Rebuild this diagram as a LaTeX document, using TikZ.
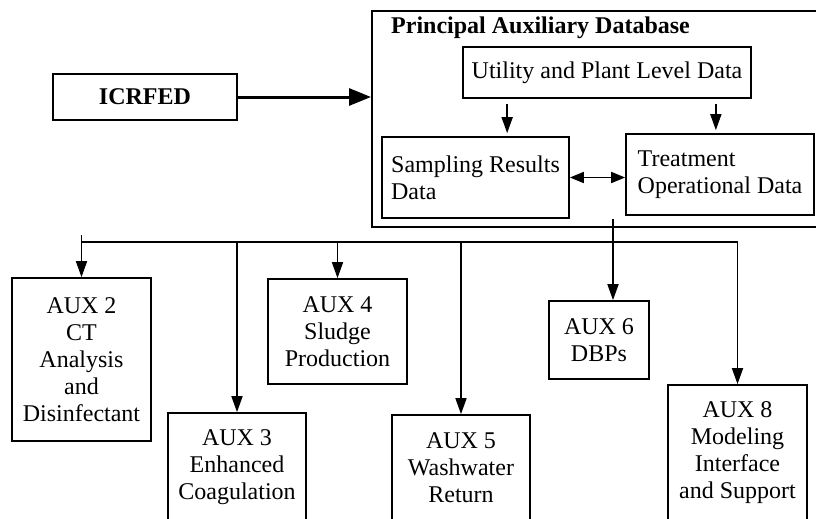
\documentclass[tikz,border=0pt]{standalone}
\usepackage{fontspec}
\setmainfont{Liberation Serif}
\usetikzlibrary{arrows.meta,positioning,calc}

\begin{document}
\begin{tikzpicture}[x=1pt,y=-1pt,
        box/.style={draw, line width=1.7pt, inner sep=0pt, align=center, font=\fontsize{24}{27}\selectfont},
        arr/.style={line width=1.7pt, -{Triangle[length=16pt,width=11pt]}},
        dbl/.style={line width=1.7pt, {Triangle[length=14pt,width=11pt]}-{Triangle[length=14pt,width=11pt]}}]
        \useasboundingbox (0,0) rectangle (816,519);
        \clip (0,0) rectangle (816,519);

        % top part
        \node[box, font=\bfseries\fontsize{24}{27}\selectfont, minimum width=184pt, minimum height=46pt] (icrfed) at (145,97) {ICRFED};
        \node[draw, line width=2pt, inner sep=0pt, anchor=north west, minimum width=460pt, minimum height=216pt] (pad) at (371,10) {};
        \node[anchor=west, inner sep=0pt, font=\bfseries\fontsize{24}{27}\selectfont] (title) at (391,28) {Principal Auxiliary Database};
        \node[box, minimum width=288pt, minimum height=51pt] (util) at (607,72.5) {Utility and Plant Level Data};
        \node[box, align=left, minimum width=187pt, minimum height=81pt] (samp) at (475.5,177.5) {Sampling Results\\Data};
        \node[box, align=left, minimum width=188pt, minimum height=81pt] (treat) at (720,174.5) {Treatment\\Operational Data};

        \draw[line width=3pt, -{Triangle[length=22pt,width=17pt]}] (icrfed.east) -- (icrfed.east -| pad.west);
        \coordinate (u1) at ($(util.south west)+(45,0)$);
        \coordinate (u2) at ($(util.south east)+(-36,0)$);
        \draw[arr, shorten <=5pt, shorten >=3pt] (u1) -- (u1 |- samp.north);
        \draw[arr, shorten <=5pt, shorten >=3pt] (u2) -- (u2 |- treat.north);
        \draw[dbl] (samp.east) -- (samp.east -| treat.west);

        % AUX boxes
        \node[box, minimum width=139pt, minimum height=163pt] (aux2) at (81.5,359.5) {AUX 2\\CT\\Analysis\\and\\Disinfectant};
        \node[box, minimum width=138pt, minimum height=108pt] (aux3) at (237,467) {AUX 3\\Enhanced\\Coagulation};
        \node[box, minimum width=139pt, minimum height=105pt] (aux4) at (337.5,331.5) {AUX 4\\Sludge\\Production};
        \node[box, minimum width=138pt, minimum height=106pt] (aux5) at (461,468) {AUX 5\\Washwater\\Return};
        \node[box, minimum width=100pt, minimum height=78pt] (aux6) at (599,340) {AUX 6\\DBPs};
        \node[box, minimum width=139pt, minimum height=136pt] (aux8) at (737.5,453) {AUX 8\\Modeling\\Interface\\and Support};

        % bus to the AUX boxes
        \coordinate (tick) at (81.5,235);
        \coordinate (busL) at (81.5,242);
        \coordinate (src) at (613,219);
        \draw[arr] (tick) -- (aux2.north);
        \draw[arr] (busL) -| (aux8.north);
        \foreach \n in {aux3,aux4,aux5}
            \draw[arr] (\n.north |- busL) -- (\n.north);
        \draw[arr] (src) -- (src |- aux6.north);
\end{tikzpicture}
\end{document}
